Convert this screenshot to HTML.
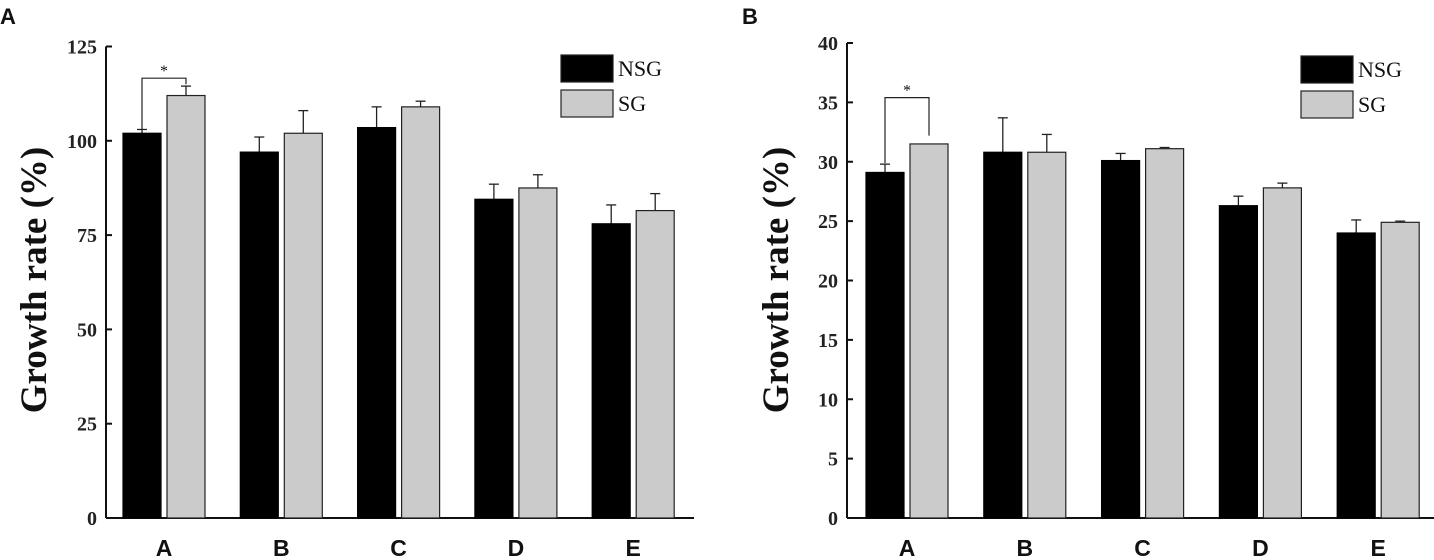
<!DOCTYPE html>
<html><head><meta charset="utf-8"><style>
html,body{margin:0;padding:0;background:#fff;}
svg{display:block;}
.tick{font-family:"Liberation Serif",serif;font-weight:bold;font-size:20px;fill:#222;}
.ytitle{font-family:"Liberation Serif",serif;font-weight:bold;font-size:37px;fill:#111;}
.xlab{font-family:"Liberation Sans",sans-serif;font-weight:bold;font-size:23px;fill:#111;}
.panel{font-family:"Liberation Sans",sans-serif;font-weight:bold;font-size:22px;fill:#111;}
.leg{font-family:"Liberation Serif",serif;font-size:22px;fill:#111;}
</style></head><body>
<svg id="chart" width="1434" height="560" viewBox="0 0 1434 560" xmlns="http://www.w3.org/2000/svg"></svg>
<script>
const categories = ["A","B","C","D","E"];
const nsgA = [102, 97, 103.5, 84.5, 78];
const sgA = [112, 102, 109, 87.5, 81.5];
const nsgErrA = [1, 4, 5.5, 4, 5];
const sgErrA = [2.5, 6, 1.5, 3.5, 4.5];
const ticksA = [0, 25, 50, 75, 100, 125];
const nsgB = [29.1, 30.8, 30.1, 26.3, 24.0];
const sgB = [31.5, 30.8, 31.1, 27.8, 24.9];
const nsgErrB = [0.7, 2.9, 0.6, 0.8, 1.1];
const sgErrB = [0, 1.5, 0.1, 0.4, 0.1];
const ticksB = [0, 5, 10, 15, 20, 25, 30, 35, 40];

const svg = document.getElementById('chart');
const NS = 'http://www.w3.org/2000/svg';
function mk(tag, attrs, parent){
  const e = document.createElementNS(NS, tag);
  for (const k in attrs) e.setAttribute(k, attrs[k]);
  (parent||svg).appendChild(e);
  return e;
}

function panel(cfg){
  const g = mk('g', {});
  
  
  const y = v => cfg.y0 - (v - 0) / cfg.max * (cfg.y0 - cfg.yTop);
  const x = i => cfg.c0 + i * cfg.step;
  const pl = mk('text', {x: cfg.labelX, y: 24, class: 'panel'}, g);
  pl.textContent = cfg.label;
  
  
  const ya = mk('line', {x1: cfg.ax, y1: cfg.yTop, x2: cfg.ax, y2: cfg.y0, stroke: '#111', 'stroke-width': 2}, g);
  
  
  const xa = mk('line', {x1: cfg.ax, y1: cfg.y0, x2: cfg.axEnd, y2: cfg.y0, stroke: '#111', 'stroke-width': 2}, g);
  
  
  cfg.ticks.forEach(t => {
    const ty = y(t);
    const tl = mk('line', {x1: cfg.ax, y1: ty, x2: cfg.ax + 6, y2: ty, stroke: '#111', 'stroke-width': 2}, g);
    
    
    const tt = mk('text', {x: cfg.ax - 9, y: ty + 7, 'text-anchor': 'end', class: 'tick'}, g);
    tt.textContent = t;
    
    
  });
  const yt = mk('text', {x: 0, y: 0, class: 'ytitle', 'text-anchor': 'middle', transform: `translate(${cfg.titleX},280) rotate(-90)`}, g);
  yt.textContent = 'Growth rate (%)';
  
  
  const bw = 38, gap = 6;
  categories.forEach((c, i) => {
    const cx = x(i);
    const series = [[cfg.nsg[i], cfg.nsgErr[i], '#000', '#000', cx - gap/2 - bw, 'bar-nsg-'], [cfg.sg[i], cfg.sgErr[i], '#cbcbcb', '#222', cx + gap/2, 'bar-sg-']];
    series.forEach(s => {
      const top = y(s[0]);
      if (s[1] > 0) {
        const et = y(s[0] + s[1]);
        const bx = s[4] + bw/2;
        const el = mk('line', {x1: bx, y1: et, x2: bx, y2: top, stroke: '#222', 'stroke-width': 1.3}, g);
        
        
        const ec = mk('line', {x1: bx - 5, y1: et, x2: bx + 5, y2: et, stroke: '#222', 'stroke-width': 1.3}, g);
        
        
      }
      const r = mk('rect', {x: s[4], y: top, width: bw, height: cfg.y0 - top, fill: s[2], stroke: s[3], 'stroke-width': 1.2}, g);
      
      
    });
    const xl = mk('text', {x: cx, y: 556, 'text-anchor': 'middle', class: 'xlab'}, g);
    xl.textContent = c;
    
    
  });
  const lx = x(0) - gap/2 - bw/2, rx = x(0) + gap/2 + bw/2;
  const by = y(cfg.brY);
  const br = mk('path', {d: `M${lx},${y(cfg.brL)} V${by} H${rx} V${y(cfg.brR)}`, fill: 'none', stroke: '#222', 'stroke-width': 1.2}, g);
  
  
  const st = mk('text', {x: (lx + rx)/2, y: by - 2, 'text-anchor': 'middle', class: 'leg', style: 'font-size:16px'}, g);
  st.textContent = '*';
  
  
  const lg = mk('g', {}, g);
  
  
  [['NSG', '#000', cfg.legY], ['SG', '#cbcbcb', cfg.legY + 35]].forEach(l => {
    const r = mk('rect', {x: cfg.legX, y: l[2], width: 52, height: 27, fill: l[1], stroke: '#222', 'stroke-width': 1.2}, lg);
    
    
    const t = mk('text', {x: cfg.legX + 57, y: l[2] + 21, class: 'leg'}, lg);
    t.textContent = l[0];
    
    
  });
}

panel({name: 'panel-a', label: 'A', labelX: 0, ax: 106, axEnd: 694, y0: 518, yTop: 46.5, max: 125, ticks: ticksA,
  c0: 164, step: 117.3, nsg: nsgA, sg: sgA, nsgErr: nsgErrA, sgErr: sgErrA, titleX: 46,
  brY: 116.6, brL: 103, brR: 115, legX: 561, legY: 55});
panel({name: 'panel-b', label: 'B', labelX: 742, ax: 847, axEnd: 1434, y0: 518, yTop: 43, max: 40, ticks: ticksB,
  c0: 907, step: 117.8, nsg: nsgB, sg: sgB, nsgErr: nsgErrB, sgErr: sgErrB, titleX: 788,
  brY: 35.4, brL: 29.9, brR: 32.2, legX: 1301, legY: 56});
</script>
</body></html>
